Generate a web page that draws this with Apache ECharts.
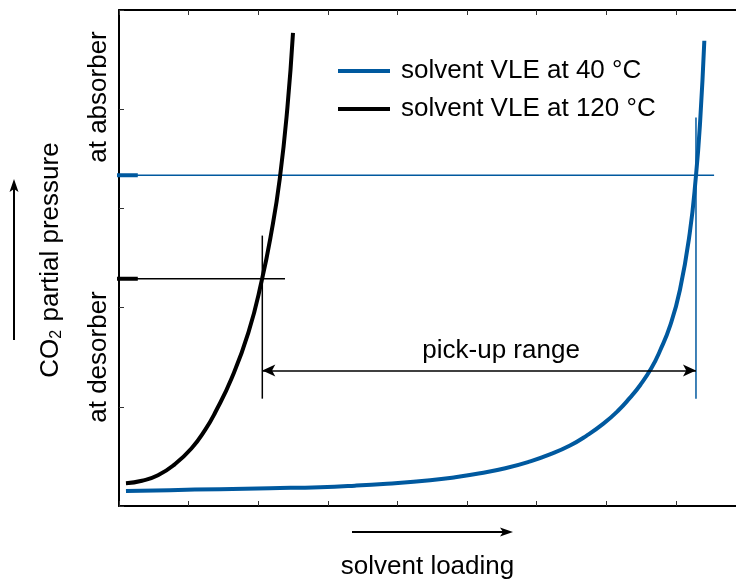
<!DOCTYPE html>
<html>
<head>
<meta charset="utf-8">
<title>solvent VLE</title>
<script src="https://cdn.jsdelivr.net/npm/echarts@6/dist/echarts.min.js"></script>
<style>
  html, body { margin: 0; padding: 0; background: #fff; }
  #main { width: 736px; height: 580px; }
</style>
</head>
<body>
<div id="main"></div>
<script>
// curve readings (solvent loading -> CO2 partial pressure, arbitrary units)
const loading120 = [0.10, 0.33, 0.56, 0.80, 1.04, 1.24, 1.38, 1.62, 1.86, 2.05, 2.19, 2.31, 2.42, 2.50];
const pressure120 = [0.23, 0.255, 0.31, 0.42, 0.58, 0.77, 0.94, 1.29, 1.75, 2.27, 2.76, 3.30, 4.02, 4.77];

const loading40 = [0.10, 0.73, 1.45, 2.17, 2.89, 3.39, 3.85, 4.47, 4.83, 5.19, 5.55, 5.91, 6.19, 6.48, 6.72, 6.96,
  7.17, 7.34, 7.49, 7.65, 7.77, 7.92, 8.06, 8.20, 8.29, 8.35, 8.41];
const pressure40 = [0.15, 0.16, 0.17, 0.18, 0.19, 0.205, 0.225, 0.26, 0.29, 0.33, 0.38, 0.45, 0.52, 0.61, 0.71, 0.83,
  0.96, 1.09, 1.22, 1.39, 1.56, 1.82, 2.18, 2.75, 3.33, 3.88, 4.69];

// operating points
const absorberP = 3.333;
const desorberP = 2.29;
const leanLoading = 2.059;
const richLoading = 8.29;
const rangeP = 1.367;

const BLUE = '#00599f';
const FONT = 'Liberation Sans';
const X_MAX = 8.865; // frame is cut at the right edge of the picture

const toPairs = (xs, ys) => xs.map((x, i) => [x, ys[i]]);

const helper = (name, data, color, width) => ({
  name, type: 'line', data, clip: false, symbol: 'none', silent: true,
  lineStyle: { color, width }, z: 1
});

const chart = echarts.init(document.getElementById('main'));

const axisCommon = {
  type: 'value',
  axisLine: { show: true, onZero: false, lineStyle: { color: '#000', width: 2 } },
  axisTick: { show: true, inside: true, length: 5, lineStyle: { color: '#333', width: 1 } },
  axisLabel: { show: false },
  splitLine: { show: false }
};

chart.setOption({
  animation: false,
  backgroundColor: '#fff',
  grid: { left: 119, top: 10, right: 0, bottom: 74, outerBoundsMode: 'none' },
  xAxis: [
    Object.assign({}, axisCommon, {
      min: 0, max: X_MAX, interval: 1, position: 'bottom',
      name: 'solvent loading', nameLocation: 'middle', nameGap: 48,
      nameTextStyle: { fontSize: 26, fontFamily: FONT, color: '#000' }
    }),
    Object.assign({}, axisCommon, { min: 0, max: X_MAX, interval: 1, position: 'top' })
  ],
  yAxis: [
    Object.assign({}, axisCommon, { min: 0, max: 5, interval: 1, position: 'left' }),
    Object.assign({}, axisCommon, { min: 0, max: 5, interval: 1, position: 'right', show: false })
  ],
  legend: {
    orient: 'vertical', left: 333, top: 53, itemGap: 12,
    icon: 'rect', itemWidth: 52, itemHeight: 4, selectedMode: false,
    data: ['solvent VLE at 40 °C', 'solvent VLE at 120 °C'],
    textStyle: { fontSize: 26, fontFamily: FONT, color: '#000', lineHeight: 26, padding: [0, 0, 0, 6] }
  },
  series: [
    helper('abs-line', [[0, absorberP], [8.55, absorberP]], BLUE, 1.5),
    helper('abs-stub', [[-0.287, absorberP], [0.27, absorberP]], BLUE, 4),
    helper('des-line', [[0, desorberP], [2.385, desorberP]], '#000', 1.5),
    helper('des-stub', [[-0.287, desorberP], [0.27, desorberP]], '#000', 4),
    helper('lean', [[leanLoading, 2.726], [leanLoading, 1.082]], '#000', 1.5),
    helper('rich', [[richLoading, 3.917], [richLoading, 1.082]], BLUE, 1.5),
    {
      name: 'solvent VLE at 40 °C', type: 'line', data: toPairs(loading40, pressure40),
      symbol: 'none', smooth: 0.5, lineStyle: { color: BLUE, width: 4 }, itemStyle: { color: BLUE }, z: 3
    },
    {
      name: 'solvent VLE at 120 °C', type: 'line', data: toPairs(loading120, pressure120),
      symbol: 'none', smooth: 0.5, lineStyle: { color: '#000', width: 4 }, itemStyle: { color: '#000' }, z: 3,
      markLine: {
        silent: true, symbol: ['arrow', 'arrow'], symbolSize: [9, 13],
        lineStyle: { color: '#000', width: 1.5, type: 'solid' },
        label: { show: false },
        data: [[{ coord: [leanLoading, rangeP] }, { coord: [richLoading, rangeP] }]]
      },
      markPoint: {
        silent: true, symbol: 'circle', symbolSize: 0,
        label: { show: true, position: 'inside', formatter: 'pick-up range', fontSize: 26, fontFamily: FONT, color: '#000' },
        data: [{ coord: [5.49, 1.568] }]
      }
    }
  ],
  graphic: [
    {
      type: 'text', x: 51, y: 260, rotation: Math.PI / 2,
      style: {
        text: 'CO{sub|2} partial pressure', fontSize: 26, fontFamily: FONT, fill: '#000',
        align: 'center', verticalAlign: 'middle',
        rich: { sub: { fontSize: 16, fontFamily: FONT, padding: [12, 1, 0, 0] } }
      }
    },
    {
      type: 'text', x: 99, y: 97, rotation: Math.PI / 2,
      style: { text: 'at absorber', fontSize: 26, fontFamily: FONT, fill: '#000', align: 'center', verticalAlign: 'middle' }
    },
    {
      type: 'text', x: 99, y: 357, rotation: Math.PI / 2,
      style: { text: 'at desorber', fontSize: 26, fontFamily: FONT, fill: '#000', align: 'center', verticalAlign: 'middle' }
    },
    // direction arrows next to the axis names
    { type: 'line', shape: { x1: 352, y1: 532, x2: 504, y2: 532 }, style: { stroke: '#000', lineWidth: 2 } },
    { type: 'polygon', shape: { points: [[513, 532], [500, 527.5], [503, 532], [500, 536.5]] }, style: { fill: '#000' } },
    { type: 'line', shape: { x1: 14, y1: 340, x2: 14, y2: 188 }, style: { stroke: '#000', lineWidth: 2 } },
    { type: 'polygon', shape: { points: [[14, 179], [9.5, 192], [14, 189], [18.5, 192]] }, style: { fill: '#000' } }
  ]
});
</script>
</body>
</html>
